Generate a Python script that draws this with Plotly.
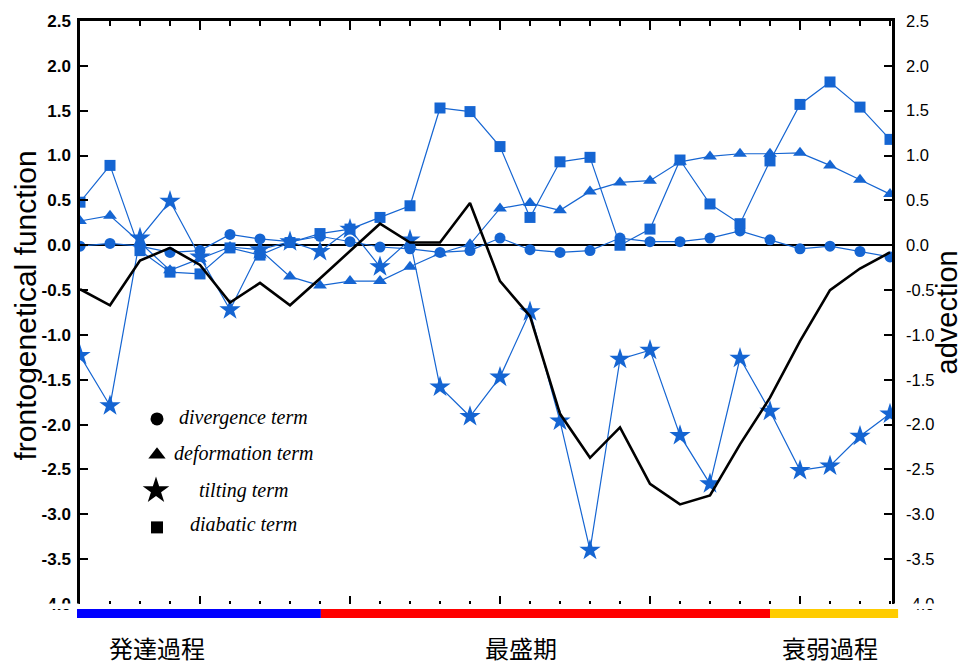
import plotly.graph_objects as go

# ---- series (28 consecutive analysis times) ----
steps = list(range(28))

divergence = [-0.01, 0.02, -0.01, -0.08, -0.06, 0.12, 0.07, 0.04, 0.10, 0.04,
              -0.02, -0.04, -0.08, -0.06, 0.08, -0.05, -0.08, -0.06, 0.08, 0.04,
              0.04, 0.08, 0.16, 0.06, -0.04, -0.01, -0.07, -0.13]
deformation = [0.27, 0.33, 0.03, -0.28, -0.15, -0.02, -0.05, -0.35, -0.45, -0.40,
               -0.40, -0.24, -0.09, 0.01, 0.41, 0.47, 0.39, 0.60, 0.70, 0.72,
               0.93, 0.99, 1.02, 1.02, 1.03, 0.89, 0.73, 0.57]
tilting = [-1.23, -1.79, 0.08, 0.49, -0.13, -0.72, -0.05, 0.04, -0.07, 0.18,
           -0.24, 0.06, -1.58, -1.91, -1.47, -0.74, -1.96, -3.40, -1.27, -1.17,
           -2.12, -2.66, -1.26, -1.85, -2.51, -2.46, -2.13, -1.88]
diabatic = [0.48, 0.89, -0.06, -0.30, -0.32, -0.03, -0.11, 0.03, 0.13, 0.18,
            0.31, 0.44, 1.53, 1.49, 1.10, 0.31, 0.93, 0.98, 0.00, 0.18,
            0.95, 0.46, 0.24, 0.94, 1.57, 1.82, 1.54, 1.18]
advection = [-0.49, -0.67, -0.17, -0.03, -0.22, -0.64, -0.42, -0.67, -0.37, -0.07,
             0.24, 0.03, 0.03, 0.47, -0.40, -0.79, -1.88, -2.37, -2.03, -2.66,
             -2.89, -2.79, -2.22, -1.70, -1.07, -0.50, -0.26, -0.08]

term_names = ["divergence term", "deformation term", "tilting term", "diabatic term"]
term_symbols = ["circle", "triangle-up", "star", "square"]

# life-cycle phases along the time axis
phase_names = ["発達過程", "最盛期", "衰弱過程"]
phase_edges = [-0.1, 8.03, 23.0, 27.27]
phase_colors = ["#0000FF", "#FF0000", "#FFCC00"]
phase_label_pos = [2.57, 14.7, 25.0]

y_ticks = [-4.0, -3.5, -3.0, -2.5, -2.0, -1.5, -1.0, -0.5, 0.0, 0.5, 1.0, 1.5, 2.0, 2.5]

# ---- page geometry ----
W, H = 965, 666
ML, MR, MT, MB = 80, 73, 18, 62
PW, PH = W - ML - MR, H - MT - MB
X_RANGE = [0, 27 + 2 / 30]
Y_RANGE = [-4, 2.5]

BLUE = "#1565d2"


def px(p):
    """page pixel column -> paper x"""
    return (p - ML) / PW


def py(p):
    """page pixel row -> paper y"""
    return (H - MB - p) / PH


def step_to_paper(s):
    """time-step coordinate -> paper x (unclipped)"""
    return (s - X_RANGE[0]) / (X_RANGE[1] - X_RANGE[0])


fig = go.Figure()

series = [divergence, deformation, tilting, diabatic]
sizes = [11, 12, 16, 11]
for name, vals, sym, sz in zip(term_names, series, term_symbols, sizes):
    fig.add_trace(go.Scatter(
        x=steps, y=vals, name=name, mode="lines+markers",
        line=dict(color=BLUE, width=1.2),
        marker=dict(symbol=sym, size=sz, color=BLUE),
        showlegend=False,
    ))

fig.add_trace(go.Scatter(
    x=steps, y=advection, name="advection", mode="lines",
    line=dict(color="black", width=2.6),
    xaxis="x2", yaxis="y2", showlegend=False,
))

# legend keys drawn on a pixel-scaled helper axis pair
key_x = [157, 157, 156, 157]
key_y = [418, 454, 490, 527]
key_sizes = [13, 15, 20, 12]
fig.add_trace(go.Scatter(
    x=key_x, y=key_y, mode="markers",
    marker=dict(symbol=term_symbols, size=key_sizes, color="#000000",
                opacity=1, line=dict(width=0)),
    xaxis="x3", yaxis="y3", showlegend=False, hoverinfo="skip",
))

annotations = []
text_y = [417, 453, 490, 524]
for name, ty in zip(term_names, text_y):
    annotations.append(dict(
        x=px(243), y=py(ty), xref="paper", yref="paper",
        text=f"<i>{name}</i>", showarrow=False,
        font=dict(family="Liberation Serif", size=20, color="black"),
        xanchor="center", yanchor="middle",
    ))

# axis titles
annotations.append(dict(
    x=px(26), y=py(304), xref="paper", yref="paper",
    text="frontogenetical function", textangle=-90, showarrow=False,
    font=dict(family="Liberation Sans", size=30, color="black"),
    xanchor="center", yanchor="middle",
))
annotations.append(dict(
    x=px(946), y=py(311), xref="paper", yref="paper",
    text="advection", textangle=-90, showarrow=False,
    font=dict(family="Liberation Sans", size=29, color="black"),
    xanchor="center", yanchor="middle",
))

# phase labels under the colour bar
for name, xpos in zip(phase_names, phase_label_pos):
    annotations.append(dict(
        x=step_to_paper(xpos), y=py(648), xref="paper", yref="paper",
        text=name, showarrow=False, borderpad=0,
        font=dict(family="Noto Sans CJK JP", size=24, color="black"),
        xanchor="center", yanchor="middle",
    ))

shapes = []
# mask the lower part of the bottom tick labels
shapes.append(dict(type="rect", xref="paper", yref="paper",
                   x0=px(0), x1=px(78.5), y0=py(609), y1=py(603.5),
                   fillcolor="white", line=dict(width=0), layer="above"))
shapes.append(dict(type="rect", xref="paper", yref="paper",
                   x0=px(894), x1=px(965), y0=py(609), y1=py(603.5),
                   fillcolor="white", line=dict(width=0), layer="above"))
# phase colour bar
for i, col in enumerate(phase_colors):
    shapes.append(dict(type="rect", xref="paper", yref="paper",
                       x0=step_to_paper(phase_edges[i]),
                       x1=step_to_paper(phase_edges[i + 1]),
                       y0=py(618), y1=py(609),
                       fillcolor=col, line=dict(width=0), layer="above"))

tick_font_left = dict(family="Liberation Sans", size=17, color="black", weight="bold")
tick_font_right = dict(family="Liberation Sans", size=16.5, color="black")

fig.update_layout(
    width=W, height=H,
    margin=dict(l=ML, r=MR, t=MT, b=MB, pad=0),
    paper_bgcolor="white", plot_bgcolor="white",
    showlegend=False,
    xaxis=dict(
        range=X_RANGE, showline=False, showgrid=False, zeroline=False,
        ticks="inside", ticklen=8, tickwidth=1.5, tickcolor="black",
        tick0=4, dtick=5, showticklabels=False,
        minor=dict(ticks="inside", ticklen=3, tickwidth=1.5, tickcolor="black",
                   tick0=0, dtick=1, showgrid=False),
    ),
    xaxis2=dict(
        range=X_RANGE, overlaying="x", side="top",
        showline=True, linewidth=2.5, linecolor="black",
        showgrid=False, zeroline=False,
        ticks="inside", ticklen=9, tickwidth=1.5, tickcolor="black",
        tick0=4, dtick=5, showticklabels=False,
        minor=dict(ticks="inside", ticklen=5, tickwidth=1.5, tickcolor="black",
                   tick0=0, dtick=1, showgrid=False),
    ),
    yaxis=dict(
        range=Y_RANGE, showline=True, linewidth=2.5, linecolor="black",
        showgrid=False, zeroline=True, zerolinecolor="black", zerolinewidth=2,
        ticks="inside", ticklen=8, tickwidth=1.5, tickcolor="black",
        tickvals=y_ticks, ticktext=[f"{v:.1f}" for v in y_ticks],
        tickfont=tick_font_left, ticklabelstandoff=3,
    ),
    yaxis2=dict(
        range=Y_RANGE, overlaying="y", side="right",
        showline=True, linewidth=2.5, linecolor="black",
        showgrid=False, zeroline=False,
        ticks="inside", ticklen=8, tickwidth=1.5, tickcolor="black",
        tickvals=y_ticks, ticktext=[f"{v:.1f}" for v in y_ticks],
        tickfont=tick_font_right, ticklabelstandoff=8,
    ),
    xaxis3=dict(range=[ML, W - MR], overlaying="x", visible=False),
    yaxis3=dict(range=[H - MB, MT], overlaying="y", visible=False),
    annotations=annotations,
    shapes=shapes,
)

fig.write_html("out.html")
